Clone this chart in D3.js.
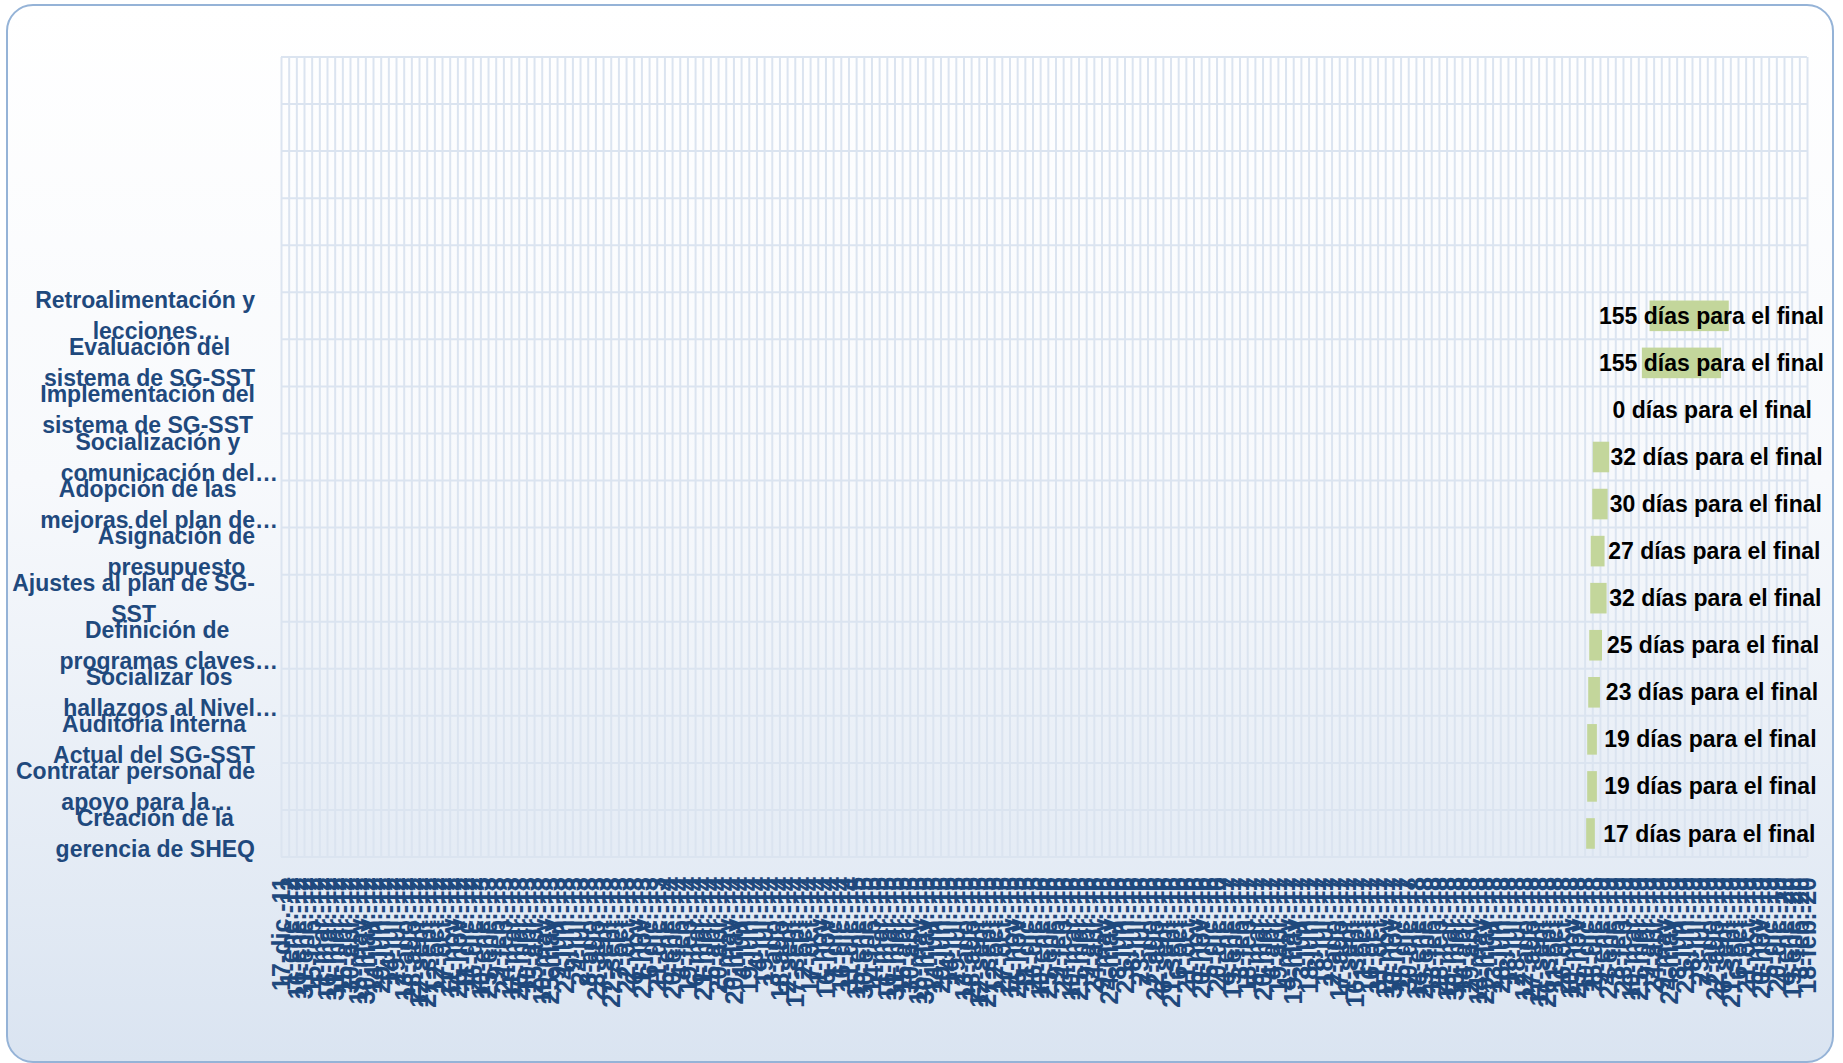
<!DOCTYPE html>
<html>
<head>
<meta charset="utf-8">
<script src="https://cdn.jsdelivr.net/npm/d3@7"></script>
<style>
  body { margin: 0; background: #ffffff; }
  svg text { font-family: "Liberation Sans", Arial, sans-serif; font-weight: bold; }
</style>
</head>
<body>
<svg id="chart" width="1843" height="1063"></svg>
<script>
// tasks, bottom to top (first category is drawn at the bottom, like Excel)
var taskLines = [
  ["Creación de la", "gerencia de SHEQ"],
  ["Contratar personal de", "apoyo para la…"],
  ["Auditoría Interna", "Actual del SG-SST"],
  ["Socializar los", "hallazgos al Nivel…"],
  ["Definición de", "programas claves…"],
  ["Ajustes al plan de SG-", "SST"],
  ["Asignación de", "presupuesto"],
  ["Adopción de las", "mejoras del plan de…"],
  ["Socialización y", "comunicación del…"],
  ["Implementación del", "sistema de SG-SST"],
  ["Evaluación del", "sistema de SG-SST"],
  ["Retroalimentación y", "lecciones…"]
];
var startDates = [
  "2018-12-13", "2018-12-15", "2018-12-15", "2018-12-17", "2018-12-19", "2018-12-21",
  "2018-12-22", "2018-12-25", "2018-12-26", "2019-01-10", "2019-04-01", "2019-04-16"
];
var durations = [17, 19, 19, 23, 25, 32, 27, 30, 32, 0, 155, 155];
var emptyRows = 5;

// date axis settings
var axisMin = "2011-12-17";
var axisMax = "2020-02-18";
var tickStep = 15;
var meses = ["ene.", "feb.", "mar.", "abr.", "may.", "jun.", "jul.", "ago.", "sept.", "oct.", "nov.", "dic."];

(function() {
  'use strict';

  var parse = d3.utcParse("%Y-%m-%d");
  var svg = d3.select("#chart");
  var margin = {top: 57, left: 281},
    width = 1526,
    height = 800;

  var defs = svg.append("defs");
  var grad = defs.append("linearGradient")
    .attr("id", "bg")
    .attr("x1", 0).attr("y1", 0).attr("x2", 0).attr("y2", 1);
  grad.append("stop").attr("offset", "0").attr("stop-color", "#ffffff");
  grad.append("stop").attr("offset", "0.45").attr("stop-color", "#f7f9fc");
  grad.append("stop").attr("offset", "1").attr("stop-color", "#dae4f1");

  svg.append("rect")
    .attr("x", 7).attr("y", 5)
    .attr("width", 1826).attr("height", 1057)
    .attr("rx", 26).attr("ry", 26)
    .attr("fill", "url(#bg)")
    .attr("stroke", "#95b3d7")
    .attr("stroke-width", 2);

  var g = svg.append("g").attr("transform", "translate(" + margin.left + "," + margin.top + ")");

  var data = taskLines.map(function(lines, i) {
    var s = parse(startDates[i]);
    return {i: i, lines: lines, start: s, end: d3.utcDay.offset(s, durations[i]), days: durations[i]};
  });

  var x = d3.scaleUtc()
    .domain([parse(axisMin), parse(axisMax)])
    .range([0, width]);

  var y = d3.scaleBand()
    .domain(d3.range(taskLines.length + emptyRows))
    .range([height, 0])
    .paddingInner(0.35)
    .paddingOuter(0.175);

  var tickCount = Math.round(d3.utcDay.count(x.domain()[0], x.domain()[1]) / tickStep) + 1;
  var ticks = d3.range(tickCount).map(function(k) {
    return d3.utcDay.offset(x.domain()[0], k * tickStep);
  });
  var yy = d3.utcFormat("%y");
  function fmt(d) {
    return d.getUTCDate() + "-" + meses[d.getUTCMonth()] + "-" + yy(d);
  }

  // vertical gridlines
  var gx = g.append("g")
    .call(d3.axisBottom(x).tickValues(ticks).tickSize(height).tickFormat(""));
  gx.select(".domain").remove();
  gx.selectAll("line").attr("stroke", "#dbe4f0").attr("stroke-width", 2);

  // horizontal gridlines on category boundaries
  g.append("g")
    .selectAll("line")
    .data(d3.range(y.domain().length + 1))
    .enter().append("line")
    .attr("x1", 0).attr("x2", width)
    .attr("y1", function(k) { return height - k * y.step(); })
    .attr("y2", function(k) { return height - k * y.step(); })
    .attr("stroke", "#dbe4f0")
    .attr("stroke-width", 2);

  // date labels
  var ax = g.append("g")
    .attr("transform", "translate(0," + height + ")")
    .call(d3.axisBottom(x).tickValues(ticks).tickSize(0).tickFormat(fmt));
  ax.select(".domain").remove();
  ax.selectAll("text")
    .attr("y", 0)
    .attr("x", -20)
    .attr("dy", "0.35em")
    .attr("transform", "rotate(-90)")
    .style("text-anchor", "end")
    .attr("fill", "#1f497d")
    .attr("font-size", 25);

  // bars
  g.append("g")
    .selectAll("rect")
    .data(data.filter(function(d) { return d.days > 0; }))
    .enter().append("rect")
    .attr("x", function(d) { return x(d.start); })
    .attr("y", function(d) { return y(d.i); })
    .attr("width", function(d) { return x(d.end) - x(d.start); })
    .attr("height", y.bandwidth())
    .attr("fill", "#c3d69b");

  // category labels, two lines, centred in a block right-aligned to the axis
  var labelRight = -26, lineH = 31;
  var cat = g.append("g")
    .selectAll("text")
    .data(data)
    .enter().append("text")
    .attr("fill", "#1f497d")
    .attr("font-size", 23);

  cat.each(function(d) {
    var t = d3.select(this);
    var cy = y(d.i) + y.bandwidth() / 2;
    var spans = d.lines.map(function(line, k) {
      return t.append("tspan")
        .attr("y", cy + (k - (d.lines.length - 1) / 2) * lineH)
        .attr("dy", "0.35em")
        .text(line.replace("…", ""));
    });
    var widths = spans.map(function(s) { return s.node().getComputedTextLength(); });
    var block = d3.max(widths);
    spans.forEach(function(s, k) {
      s.attr("x", labelRight - block / 2 - widths[k] / 2).text(d.lines[k]);
    });
  });

  // data labels: centred between bar end and the chart edge, kept inside
  var labelEdge = width + 17;
  g.append("g")
    .selectAll("text")
    .data(data)
    .enter().append("text")
    .attr("y", function(d) { return y(d.i) + y.bandwidth() / 2; })
    .attr("dy", "0.35em")
    .attr("fill", "#000000")
    .attr("font-size", 23)
    .text(function(d) { return d.days + " días para el final"; })
    .each(function(d) {
      var w = this.getComputedTextLength();
      var left = (x(d.end) + labelEdge) / 2 - w / 2;
      if (left + w > labelEdge) left = labelEdge - w;
      d3.select(this).attr("x", left);
    });
}());
</script>
</body>
</html>
